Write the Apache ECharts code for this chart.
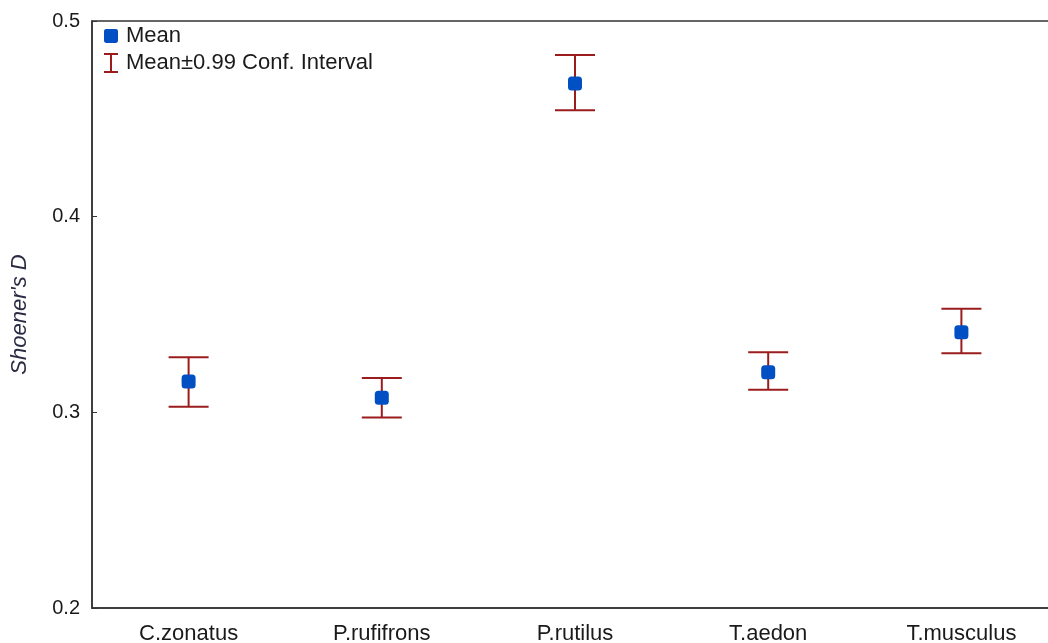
<!DOCTYPE html>
<html>
<head>
<meta charset="utf-8">
<script src="https://cdn.jsdelivr.net/npm/echarts@6/dist/echarts.min.js"></script>
<style>
  html, body { margin: 0; padding: 0; background: #fff; }
  #chart { width: 1048px; height: 643px; }
</style>
</head>
<body>
<div id="chart"></div>
<script>
// Species and Schoener's D overlap statistics
const species = ['C.zonatus', 'P.rufifrons', 'P.rutilus', 'T.aedon', 'T.musculus'];
const means   = [0.3157, 0.3075, 0.4681, 0.3205, 0.3409];
const lower   = [0.3029, 0.2974, 0.4544, 0.3115, 0.3302];
const upper   = [0.3281, 0.3176, 0.4826, 0.3307, 0.3529];
const yTicks  = [0.2, 0.3, 0.4, 0.5];

const FONT = '"Liberation Sans", Arial, sans-serif';
const BAR_COLOR = '#9a1c1c';
const MEAN_COLOR = '#0050c4';
const AXIS_COLOR = '#333';
const TEXT_COLOR = '#1a1a1a';

const ciData = species.map((s, i) => [i, lower[i], upper[i]]);
const meanData = species.map((s, i) => [i, means[i]]);

const chart = echarts.init(document.getElementById('chart'), null, { renderer: 'canvas' });

chart.setOption({
  animation: false,
  backgroundColor: '#fff',
  // plot frame runs past the right edge of the canvas, so only the top border shows
  grid: {
    left: 92, top: 21, bottom: 35, width: 966,
    outerBoundsMode: 'none',
    containLabel: false,
    show: true, borderColor: AXIS_COLOR, borderWidth: 1.5, backgroundColor: 'transparent'
  },
  legend: {
    orient: 'vertical',
    left: 104, top: 25,
    padding: 0,
    itemWidth: 14, itemHeight: 20, itemGap: 5,
    symbolKeepAspect: true,
    textStyle: { fontFamily: FONT, fontSize: 22, lineHeight: 20, color: TEXT_COLOR, padding: [0, 0, 0, 3] },
    data: [
      { name: 'Mean',
        icon: 'path://M2,0h9a2,2 0 0 1 2,2v9a2,2 0 0 1 -2,2h-9a2,2 0 0 1 -2,-2v-9a2,2 0 0 1 2,-2z',
        itemStyle: { color: MEAN_COLOR, opacity: 1 } },
      { name: 'Mean±0.99 Conf. Interval',
        icon: 'path://M0,0h14v2h-6v16h6v2h-14v-2h6v-16h-6z',
        itemStyle: { color: BAR_COLOR, opacity: 1 } }
    ]
  },
  xAxis: {
    type: 'category',
    data: species,
    boundaryGap: true,
    axisLine: { lineStyle: { color: AXIS_COLOR, width: 1.5 } },
    axisTick: { inside: true, length: 5, alignWithLabel: true, lineStyle: { color: AXIS_COLOR } },
    axisLabel: { fontFamily: FONT, fontSize: 22, color: TEXT_COLOR, margin: 15 },
    splitLine: { show: false }
  },
  yAxis: {
    type: 'value',
    min: yTicks[0], max: yTicks[yTicks.length - 1], interval: 0.1,
    name: "Shoener's D",
    nameLocation: 'middle',
    nameGap: 61,
    nameTextStyle: { fontFamily: FONT, fontSize: 22, fontStyle: 'italic', color: '#2a2a44' },
    axisLine: { show: true, lineStyle: { color: AXIS_COLOR, width: 1.5 } },
    axisTick: { show: true, inside: true, length: 5, lineStyle: { color: AXIS_COLOR } },
    axisLabel: {
      fontFamily: FONT, fontSize: 20, color: TEXT_COLOR, margin: 12,
      formatter: v => (Math.round(v * 10) / 10).toFixed(1)
    },
    splitLine: { show: false }
  },
  series: [
    {
      name: 'Mean±0.99 Conf. Interval',
      type: 'custom',
      itemStyle: { color: BAR_COLOR },
      data: ciData,
      z: 2,
      renderItem: function (params, api) {
        const x = api.value(0);
        const lo = api.coord([x, api.value(1)]);
        const hi = api.coord([x, api.value(2)]);
        const half = 20;
        const style = { stroke: BAR_COLOR, lineWidth: 2, fill: null };
        return {
          type: 'group',
          children: [
            { type: 'line', shape: { x1: lo[0], y1: lo[1], x2: hi[0], y2: hi[1] }, style },
            { type: 'line', shape: { x1: hi[0] - half, y1: hi[1], x2: hi[0] + half, y2: hi[1] }, style },
            { type: 'line', shape: { x1: lo[0] - half, y1: lo[1], x2: lo[0] + half, y2: lo[1] }, style }
          ]
        };
      }
    },
    {
      name: 'Mean',
      type: 'scatter',
      data: meanData,
      symbol: 'roundRect',
      symbolSize: 14,
      itemStyle: { color: MEAN_COLOR, opacity: 1 },
      z: 3
    }
  ]
});
</script>
</body>
</html>
